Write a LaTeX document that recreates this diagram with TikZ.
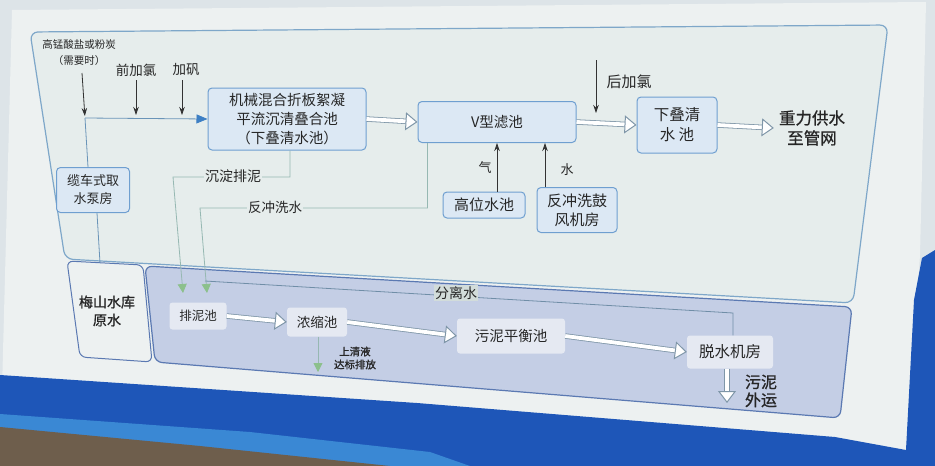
\documentclass[tikz,border=0pt]{standalone}
\usepackage{fontspec}
\newfontfamily\cjk{Noto Sans CJK SC}
\newfontfamily\cjkb[FakeBold=1.0]{Noto Sans CJK SC}
\usetikzlibrary{arrows.meta}
\definecolor{bgc}{HTML}{DDE4E8}
\definecolor{signc}{HTML}{EDF1F1}
\definecolor{bandc}{HTML}{1E56B8}
\definecolor{bandl}{HTML}{3A88D4}
\definecolor{groundc}{HTML}{6E5E4C}
\definecolor{upfill}{HTML}{E6EDEC}
\definecolor{updraw}{HTML}{7EA7C9}
\definecolor{boxfill}{HTML}{DCE8F4}
\definecolor{boxdraw}{HTML}{6F9FD0}
\definecolor{lowfill}{HTML}{C4CEE5}
\definecolor{lowdraw}{HTML}{5B79B2}
\definecolor{lboxfill}{HTML}{E5E9F2}
\definecolor{linec}{HTML}{6A94B8}
\definecolor{headblue}{HTML}{3D7FC4}
\definecolor{gline}{HTML}{96B8B2}
\definecolor{ghead}{HTML}{8CC08C}
\definecolor{harrow}{HTML}{7F96A8}
\definecolor{txt}{HTML}{262626}
\definecolor{flsbg}{HTML}{D2DCDA}
\tikzset{
  every node/.style={font=\cjk, text=txt},
  panelbox/.style={draw=boxdraw, fill=boxfill, rounded corners=4pt, line width=1pt, align=center, inner sep=2pt},
  lbox/.style={fill=lboxfill, rounded corners=3pt, align=center, inner sep=2pt},
  tline/.style={draw=linec, line width=0.8pt},
  glinestyle/.style={draw=gline, line width=0.8pt},
  garrow/.style={draw=gline, line width=0.8pt, -{Triangle[length=9pt,width=9pt,fill=ghead,color=ghead]}},
  barrow/.style={draw=black!80, line width=0.8pt, -{Stealth[length=8pt,width=5.5pt]}},
  hollow/.style={draw=harrow, line width=0.8pt, double=white, double distance=3.8pt,
     -{Triangle[open,length=12pt,width=18pt,line width=1pt,fill=white,color=harrow]}},
  lbl/.style={inner sep=1pt, align=center}
}
\begin{document}
\begin{tikzpicture}[x=1pt,y=-1pt]
\useasboundingbox (0,0) rectangle (935,466);
% background scene
\fill[bgc] (0,0) rectangle (935,466);
\fill[signc] (12,10) -- (926,2) -- (920,255) -- (905,466) -- (0,466) -- cycle;
\fill[bandc] (0,375) -- (417,403) -- (835,437) -- (906,450) -- (914,300) -- (922,258) -- (935,250) -- (935,466) -- (0,466) -- cycle;
\fill[bandl] (0,414) -- (250,432) -- (430,452) -- (470,466) -- (0,466) -- cycle;
\fill[groundc] (0,427) -- (200,446) -- (390,466) -- (0,466) -- cycle;
% panels
\draw[fill=upfill, draw=updraw, line width=1.2pt, rounded corners=8pt] (30,32) -- (888,25) -- (853,303) -- (65,259) -- cycle;
\draw[fill=signc, draw=lowdraw, line width=1pt, rounded corners=6pt] (67,261) -- (143,265) -- (152,362) -- (80,357) -- cycle;
\draw[fill=lowfill, draw=lowdraw, line width=1.2pt, rounded corners=7pt] (145,266) -- (852,307) -- (840,418) -- (155,362) -- cycle;
% upper nodes
\node[panelbox, minimum width=158pt, minimum height=62pt, font=\cjk\fontsize{14.5}{19}\selectfont] (box1) at (287,119) {机械混合折板絮凝\\平流沉清叠合池\\（下叠清水池）};
\node[panelbox, minimum width=158pt, minimum height=41pt, font=\cjk\fontsize{14.5}{16}\selectfont] (vf) at (497,122) {V型滤池};
\node[panelbox, minimum width=80pt, minimum height=56pt, font=\cjk\fontsize{15.5}{20}\selectfont] (xd) at (677,125) {下叠清\\水 池};
\node[lbl, font=\cjkb\fontsize{16.5}{20}\selectfont] (zl) at (812,128) {重力供水\\至管网};
\node[panelbox, minimum width=73pt, minimum height=45pt, font=\cjk\fontsize{13}{18}\selectfont] (pump) at (93,190) {缆车式取\\水泵房};
\node[panelbox, minimum width=82pt, minimum height=26pt, font=\cjk\fontsize{15}{16}\selectfont] (gw) at (484,205) {高位水池};
\node[panelbox, minimum width=80pt, minimum height=45pt, font=\cjk\fontsize{15}{19}\selectfont] (fj) at (577,210) {反冲洗鼓\\风机房};
\node[lbl, font=\cjk\fontsize{10.5}{16}\selectfont] (kmn) at (79,53) {高锰酸盐或粉炭\\（需要时）};
\node[lbl, font=\cjk\fontsize{13.5}{15}\selectfont] (qjl) at (136,70) {前加氯};
\node[lbl, font=\cjk\fontsize{13.5}{15}\selectfont] (jf) at (186,70) {加矾};
\node[lbl, font=\cjk\fontsize{15}{16}\selectfont] (hjl) at (629,82) {后加氯};
\node[lbl, font=\cjkb\fontsize{14}{18}\selectfont] (rawtxt) at (107,311) {梅山水库\\原水};
\coordinate (rawtop) at (100,263);
% lower nodes
\node[lbox, minimum width=57pt, minimum height=27pt, font=\cjk\fontsize{12.5}{14}\selectfont] (plc) at (198,316) {排泥池};
\node[lbox, minimum width=60pt, minimum height=29pt, font=\cjk\fontsize{13.5}{15}\selectfont] (nsc) at (317,322) {浓缩池};
\node[lbox, minimum width=108pt, minimum height=35pt, font=\cjk\fontsize{14.5}{16}\selectfont] (wph) at (511,336) {污泥平衡池};
\node[lbox, minimum width=86pt, minimum height=33pt, font=\cjk\fontsize{15.5}{17}\selectfont] (dwh) at (730,352) {脱水机房};
% intake line
\coordinate (j1) at (85,118);
\draw[tline] ([xshift=4pt]pump.south) -- (rawtop);
\draw[tline] ([xshift=-5pt]pump.north) -- (j1);
\draw[tline, -{Triangle[length=11pt,width=9pt,fill=headblue,color=headblue]}] (j1) -- (box1.west);
% dosing arrows
\coordinate (a1) at (82,73);
\draw[barrow, shorten >=2pt] (a1) -- (j1);
\draw[barrow, shorten >=3pt, shorten <=3pt] (qjl.south) -- (qjl.south |- j1);
\draw[barrow, shorten >=3pt, shorten <=3pt] ([xshift=-4pt]jf.south) -- ([xshift=-4pt]jf.south |- j1);
\coordinate (h0) at (596,60);
\coordinate (h1) at (596,113);
\draw[barrow] (h0) -- (h1);
% main flow
\draw[hollow] (box1.east) -- (vf.west);
\draw[hollow] (vf.east) -- (xd.west);
\draw[hollow] (xd.east) -- ([xshift=-4pt]zl.west);
% air / water
\draw[barrow] ([xshift=13pt]gw.north) -- ([xshift=13pt]gw.north |- vf.south);
\draw[barrow] ([xshift=-32pt]fj.north) -- ([xshift=-32pt]fj.north |- vf.south);
\node[lbl, font=\cjk\fontsize{13}{14}\selectfont] (qi) at (485,168) {气};
\node[lbl, font=\cjk\fontsize{13}{14}\selectfont] (shui) at (567,170) {水};
% sludge lines
\coordinate (c1) at (173,177);
\coordinate (c1b) at (183,293);
\draw[garrow] ([xshift=3pt]box1.south) |- (c1) -- (c1b);
\node[lbl, fill=upfill, font=\cjk\fontsize{14}{15}\selectfont] (cdpn) at (233,176) {沉淀排泥};
\coordinate (c2) at (200,208);
\coordinate (c2b) at (207,293);
\draw[garrow] ([xshift=10pt]vf.south west) |- (c2) -- (c2b);
\node[lbl, fill=upfill, font=\cjk\fontsize{13.5}{15}\selectfont] (fcxs) at (275,207) {反冲洗水};
\coordinate (c3) at (205,281);
\coordinate (c3b) at (733,313);
\draw[glinestyle, draw=linec!70!gray] ([xshift=3pt]dwh.north) -- (c3b) -- (c3);
\node[lbl, fill=flsbg, font=\cjk\fontsize{14}{15}\selectfont] (flst) at (456,293) {分离水};
% lower flow
\draw[hollow] (plc.east) -- (nsc.west);
\draw[hollow] (nsc.east) -- (wph.west);
\draw[hollow] (wph.east) -- (dwh.west);
\coordinate (qs) at (318,372);
\draw[garrow] ([xshift=1pt]nsc.south) -- (qs);
\node[lbl, font=\cjkb\fontsize{10.5}{13}\selectfont] (sqy) at (355,358) {上清液\\达标排放};
\coordinate (wn) at (727,403);
\draw[hollow] ([xshift=-3pt]dwh.south) -- (wn);
\node[lbl, font=\cjkb\fontsize{16}{18}\selectfont] (wnwy) at (761,391) {污泥\\外运};
\end{tikzpicture}
\end{document}
